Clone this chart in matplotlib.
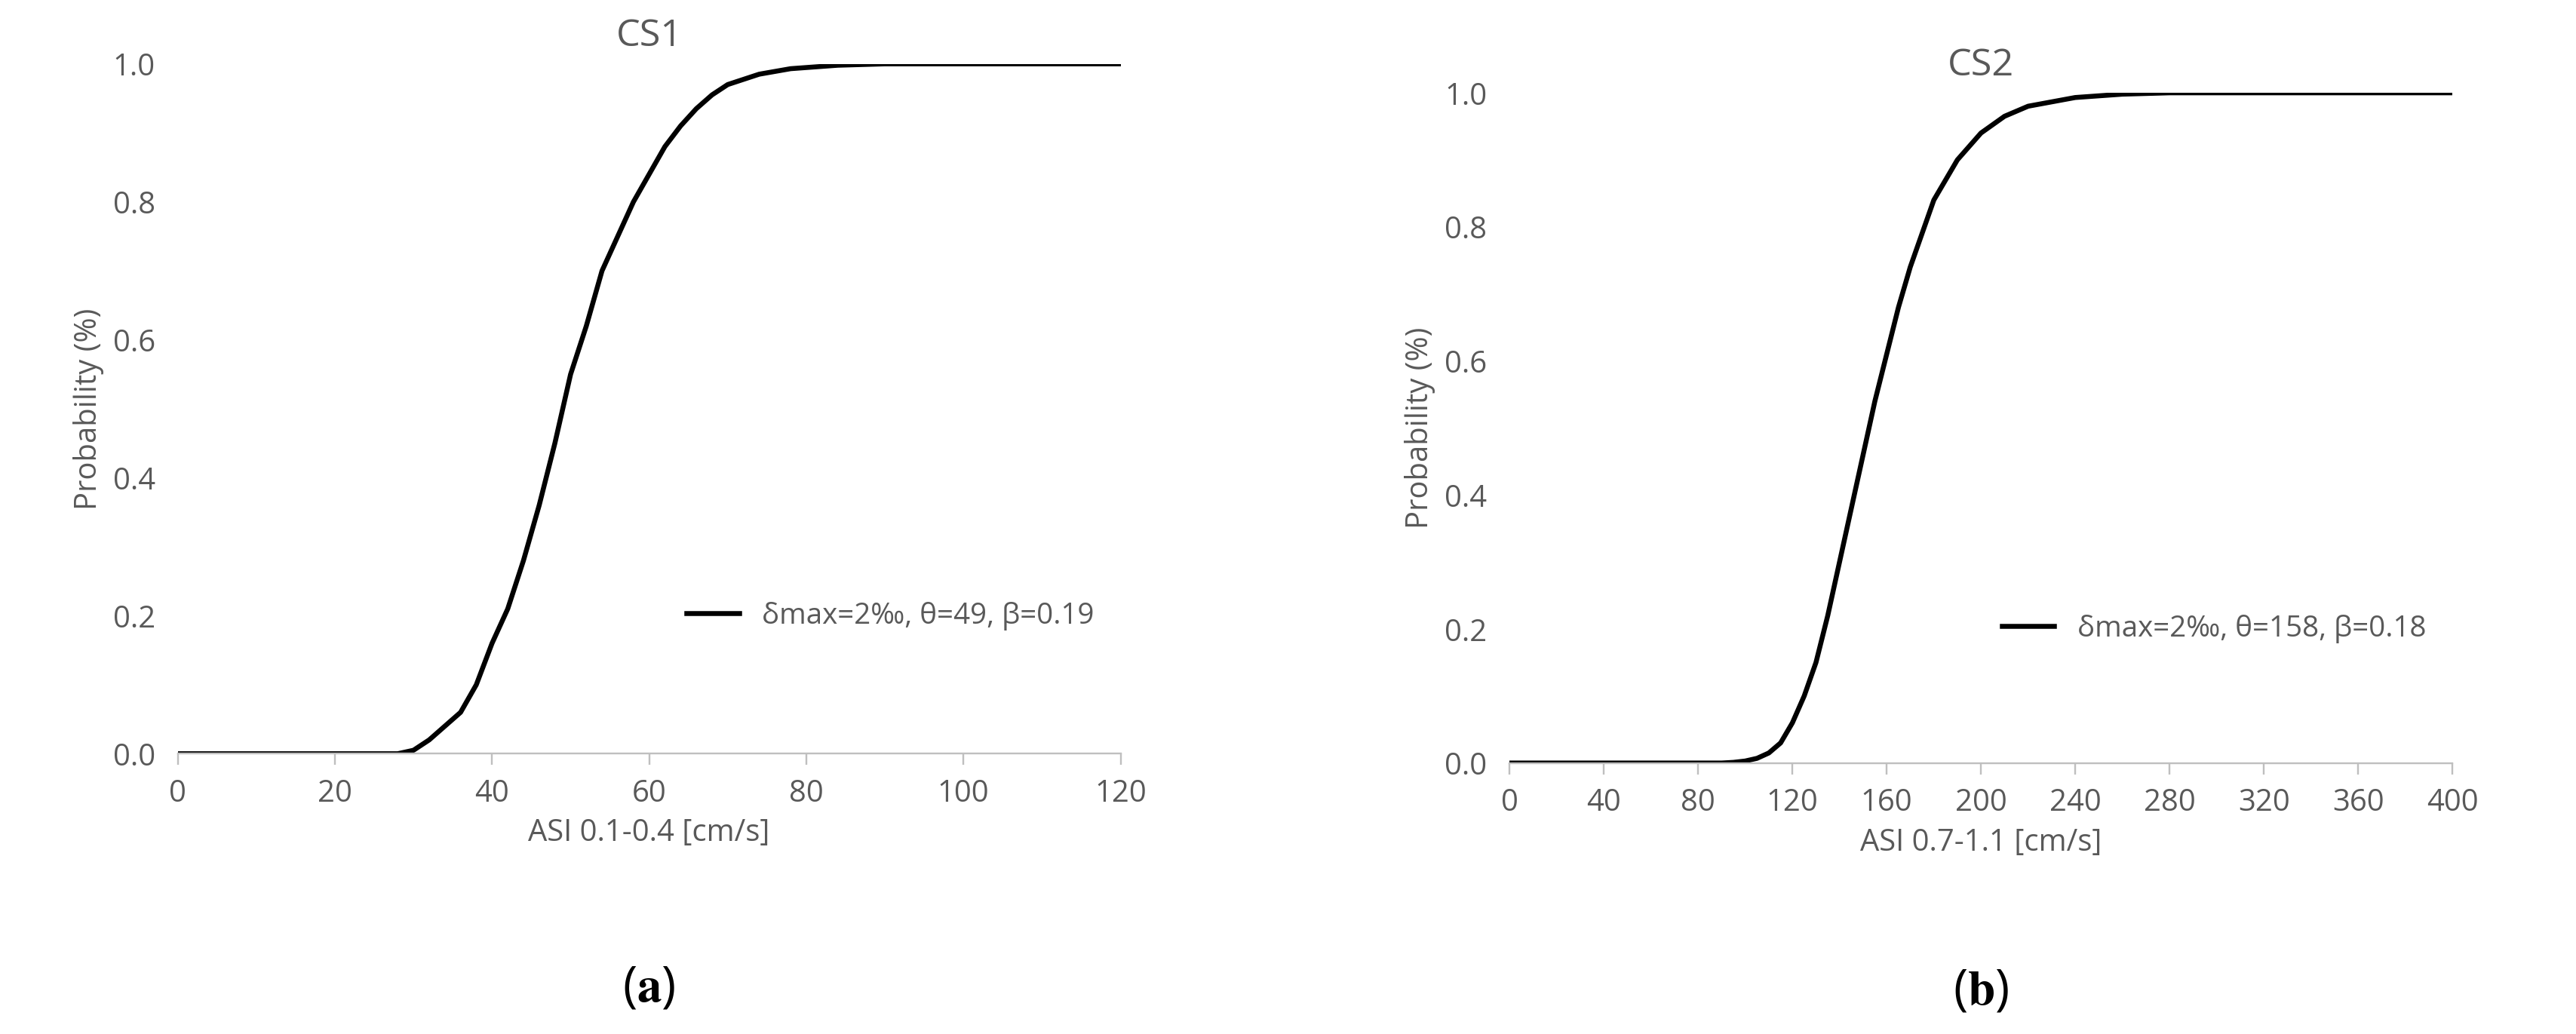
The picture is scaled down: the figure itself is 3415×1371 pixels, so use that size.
import matplotlib
matplotlib.use("Agg")
import matplotlib.pyplot as plt

# values
cs1_x = [0, 10, 20, 28, 30, 32, 34, 36, 38, 40, 42, 44, 46, 48, 50, 52, 54, 56, 58, 60,
         62, 64, 66, 68, 70, 74, 78, 84, 90, 100, 120]
cs1_p = [0, 0, 0, 0, 0.005, 0.02, 0.04, 0.06, 0.10, 0.16, 0.21, 0.28, 0.36, 0.45, 0.55,
         0.62, 0.70, 0.75, 0.80, 0.84, 0.88, 0.91, 0.935, 0.955, 0.97, 0.985, 0.993,
         0.998, 1.0, 1.0, 1.0]
cs2_x = [0, 40, 90, 95, 100, 105, 110, 115, 120, 125, 130, 135, 140, 145, 150, 155, 160,
         165, 170, 175, 180, 190, 200, 210, 220, 240, 260, 280, 320, 400]
cs2_p = [0, 0, 0, 0.001, 0.003, 0.007, 0.015, 0.03, 0.06, 0.10, 0.15, 0.22, 0.30, 0.38,
         0.46, 0.54, 0.61, 0.68, 0.74, 0.79, 0.84, 0.90, 0.94, 0.965, 0.98, 0.993,
         0.998, 1.0, 1.0, 1.0]

panels = [
    dict(x=cs1_x, p=cs1_p, title="CS1", xlabel="ASI 0.1-0.4 [cm/s]", xmax=120, step=20,
         label="δmax=2‰, θ=49, β=0.19", tag="a", rect=[0.069, 0.271, 0.366, 0.667]),
    dict(x=cs2_x, p=cs2_p, title="CS2", xlabel="ASI 0.7-1.1 [cm/s]", xmax=400, step=40,
         label="δmax=2‰, θ=158, β=0.18", tag="b", rect=[0.586, 0.262, 0.366, 0.648]),
]

grey = "#595959"
plt.rcParams["font.family"] = ["Open Sans", "DejaVu Sans"]
plt.rcParams["mathtext.fontset"] = "stix"

fig = plt.figure(figsize=(16.0, 6.425), dpi=213.44)
for pn in panels:
    ax = fig.add_axes(pn["rect"])
    ax.plot(pn["x"], pn["p"], color="black", lw=2.2, label=pn["label"])
    ax.set_xlim(0, pn["xmax"])
    ax.set_ylim(0, 1.0)
    ax.set_xticks(range(0, pn["xmax"] + 1, pn["step"]))
    ax.set_yticks([0, 0.2, 0.4, 0.6, 0.8, 1.0])
    ax.set_yticklabels([f"{v:.1f}" for v in [0, 0.2, 0.4, 0.6, 0.8, 1.0]])
    for s in ["top", "right", "left"]:
        ax.spines[s].set_visible(False)
    ax.spines["bottom"].set_color("#bfbfbf")
    ax.tick_params(axis="y", length=0, labelsize=13.5, colors=grey, pad=10)
    ax.tick_params(axis="x", length=5, color="#bfbfbf", labelsize=13.5, colors=grey, pad=6)
    ax.set_title(pn["title"], fontsize=17, color=grey, pad=8)
    ax.set_xlabel(pn["xlabel"], fontsize=13.5, color=grey)
    ax.set_ylabel("Probability (%)", fontsize=13.5, color=grey)
    ax.legend(loc="center right", bbox_to_anchor=(1.0, 0.2), frameon=False,
              fontsize=13, labelcolor=grey, handlelength=1.8)
    ax.text(0.5, -0.34, r"($\mathbf{" + pn["tag"] + "}$)", transform=ax.transAxes,
            ha="center", va="center", fontsize=22, color="black")

fig.savefig("out.png", dpi=213.44)
